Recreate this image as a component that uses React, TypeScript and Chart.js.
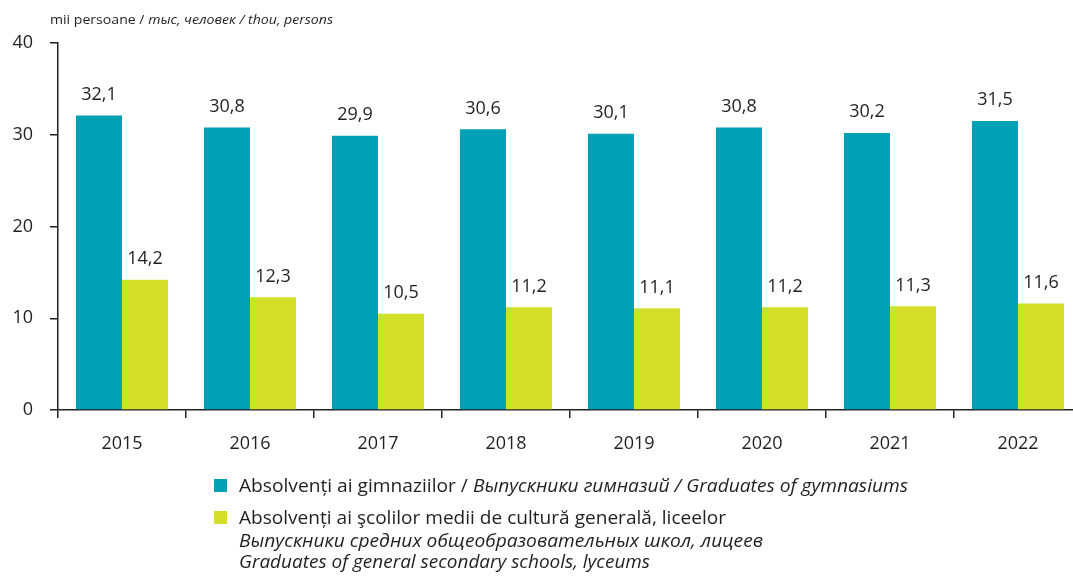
import React, { useEffect, useRef } from 'react';
import { Chart, registerables } from 'chart.js';

Chart.register(...registerables);

const years = ['2015', '2016', '2017', '2018', '2019', '2020', '2021', '2022'];
const gymnasiumGraduates = [32.1, 30.8, 29.9, 30.6, 30.1, 30.8, 30.2, 31.5];
const lyceumGraduates = [14.2, 12.3, 10.5, 11.2, 11.1, 11.2, 11.3, 11.6];
const yTickValues = [0, 10, 20, 30, 40];

const unitTitle = [
  { text: 'mii persoane / ', italic: false },
  { text: 'тыс, человек / thou, persons', italic: true },
];
const legendGymnasium = [
  { text: 'Absolvenți ai gimnaziilor / ', italic: false },
  { text: 'Выпускники гимназий / Graduates of gymnasiums', italic: true },
];
const legendLyceumLines = [
  [{ text: 'Absolvenți ai şcolilor medii de cultură generală, liceelor', italic: false }],
  [{ text: 'Выпускники средних общеобразовательных школ, лицеев', italic: true }],
  [{ text: 'Graduates of general secondary schools, lyceums', italic: true }],
];

const TEAL = '#00A0B5';
const LIME = '#D4DF2A';
const INK = '#231F20';
const FONT = '"Open Sans", "Noto Sans", sans-serif';

type Seg = { text: string; italic: boolean };

function drawFitted(
  ctx: CanvasRenderingContext2D,
  segs: Seg[],
  x: number,
  baseline: number,
  right: number,
  size: number
) {
  let natural = 0;
  for (const s of segs) {
    ctx.font = `${s.italic ? 'italic ' : ''}${size}px ${FONT}`;
    natural += ctx.measureText(s.text).width;
  }
  const k = (right - x) / natural;
  ctx.save();
  ctx.translate(x, baseline);
  ctx.scale(k, 1);
  ctx.fillStyle = INK;
  ctx.textAlign = 'left';
  ctx.textBaseline = 'alphabetic';
  let cx = 0;
  for (const s of segs) {
    ctx.font = `${s.italic ? 'italic ' : ''}${size}px ${FONT}`;
    ctx.fillText(s.text, cx, 0);
    cx += ctx.measureText(s.text).width;
  }
  ctx.restore();
}

const decorPlugin = {
  id: 'decor',
  afterDatasetsDraw(chart: any) {
    const ctx: CanvasRenderingContext2D = chart.ctx;
    ctx.save();
    ctx.fillStyle = INK;
    ctx.font = `18px ${FONT}`;
    ctx.textAlign = 'center';
    ctx.textBaseline = 'alphabetic';
    chart.data.datasets.forEach((ds: any, di: number) => {
      const meta = chart.getDatasetMeta(di);
      meta.data.forEach((bar: any, i: number) => {
        const v = ds.data[i] as number;
        ctx.fillText(v.toFixed(1).replace('.', ','), bar.x, bar.y - 15.5);
      });
    });
    ctx.restore();
  },
  afterDraw(chart: any) {
    const ctx: CanvasRenderingContext2D = chart.ctx;
    drawFitted(ctx, unitTitle, 50, 24, 333, 13);
    ctx.save();
    ctx.fillStyle = TEAL;
    ctx.fillRect(214, 479, 13, 13);
    ctx.fillStyle = LIME;
    ctx.fillRect(214, 511, 13, 13);
    ctx.restore();
    drawFitted(ctx, legendGymnasium, 239, 492, 908, 18);
    drawFitted(ctx, legendLyceumLines[0], 239, 524, 726, 18);
    drawFitted(ctx, legendLyceumLines[1], 239, 547, 763, 18);
    drawFitted(ctx, legendLyceumLines[2], 239, 568, 650, 18);
  },
};

export default function App() {
  const ref = useRef<HTMLCanvasElement | null>(null);

  useEffect(() => {
    if (!ref.current) return;
    const chart = new Chart(ref.current, {
      type: 'bar',
      data: {
        labels: years,
        datasets: [
          {
            label: 'Absolvenți ai gimnaziilor',
            data: gymnasiumGraduates,
            backgroundColor: TEAL,
            borderWidth: 0,
            barPercentage: 1,
            categoryPercentage: 0.72,
          },
          {
            label: 'Absolvenți ai şcolilor medii de cultură generală, liceelor',
            data: lyceumGraduates,
            backgroundColor: LIME,
            borderWidth: 0,
            barPercentage: 1,
            categoryPercentage: 0.72,
          },
        ],
      },
      options: {
        responsive: false,
        animation: false,
        devicePixelRatio: 1,
        layout: { padding: { left: 0, right: 18, top: 43, bottom: 0 } },
        plugins: {
          legend: { display: false },
          tooltip: { enabled: false },
          title: { display: false },
        },
        scales: {
          x: {
            type: 'category',
            offset: true,
            afterFit: (s: any) => {
              s.height = 168;
            },
            grid: {
              offset: true,
              drawOnChartArea: false,
              drawTicks: true,
              tickLength: 8,
              color: INK,
              lineWidth: 1.5,
            },
            border: { display: true, color: INK, width: 1.5 },
            ticks: {
              color: INK,
              font: { family: FONT, size: 18 },
              padding: 15,
              maxRotation: 0,
              autoSkip: false,
            },
          },
          y: {
            min: 0,
            max: 40,
            afterFit: (s: any) => {
              s.width = 58;
            },
            afterBuildTicks: (s: any) => {
              s.ticks = yTickValues.map((v) => ({ value: v }));
            },
            grid: {
              drawOnChartArea: false,
              drawTicks: true,
              tickLength: 8,
              color: INK,
              lineWidth: 1.5,
            },
            border: { display: true, color: INK, width: 1.5 },
            ticks: {
              color: INK,
              font: { family: FONT, size: 18 },
              padding: 17,
            },
          },
        },
      },
      plugins: [decorPlugin],
    });
    return () => chart.destroy();
  }, []);

  return (
    <div
      style={{
        position: 'fixed',
        left: 0,
        top: 0,
        width: 1073,
        height: 578,
        overflow: 'hidden',
        background: '#fff',
      }}
    >
      <canvas ref={ref} width={1100} height={578} style={{ width: 1100, height: 578, display: 'block' }} />
    </div>
  );
}
